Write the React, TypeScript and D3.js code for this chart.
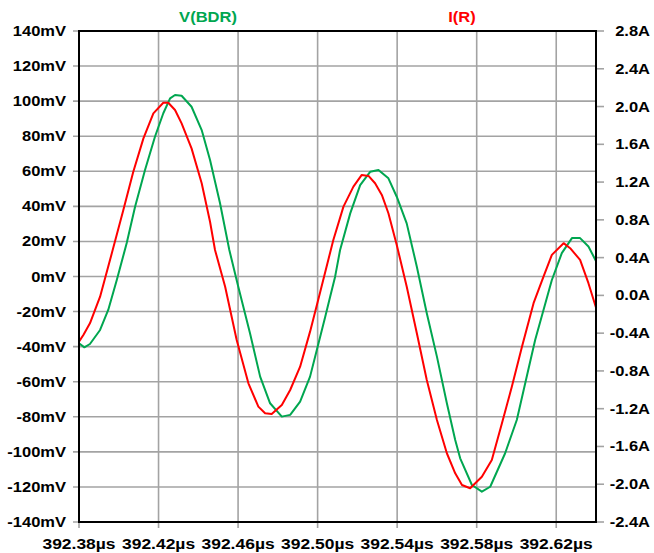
import { scaleLinear, line, range } from "d3";

const WIDTH = 654;
const HEIGHT = 553;
const PLOT = { left: 79, right: 596, top: 31, bottom: 522 };

const GREEN = "#00a650";
const RED = "#ff0000";
const GRID = "#a3a3a3";

// V(BDR) in mV
const vTime = [
  392.38, 392.3827, 392.3855, 392.3906, 392.3947, 392.399, 392.404, 392.4082,
  392.4132, 392.4182, 392.4224, 392.4258, 392.4283, 392.4316, 392.4366,
  392.4417, 392.4459, 392.4509, 392.4556, 392.4601, 392.466, 392.4711,
  392.4761, 392.482, 392.4862, 392.4912, 392.4962, 392.4996, 392.5038,
  392.5063, 392.5088, 392.5113, 392.5164, 392.5214, 392.5264, 392.5306,
  392.5356, 392.5398, 392.5448, 392.5499, 392.5549, 392.56, 392.565, 392.5692,
  392.5717, 392.5776, 392.5826, 392.5868, 392.5943, 392.6002, 392.6044,
  392.6094, 392.6136, 392.6178, 392.6228, 392.6279, 392.632, 392.6362,
  392.6401,
];
const vValues = [
  -38.1, -40.4, -38.5, -30.5, -19.1, -2.0, 19.1, 39.8, 60.7, 79.7, 93.1, 101.6,
  103.5, 103.1, 96.8, 83.5, 66.4, 41.9, 15.1, -5.8, -32.4, -57.1, -72.3, -79.9,
  -78.9, -71.3, -57.1, -41.9, -23.1, -11.5, -0.1, 15.1, 36.0, 52.1, 59.7, 60.7,
  56.0, 45.5, 30.3, 5.6, -21.0, -45.7, -72.3, -93.2, -103.7, -118.9, -122.7,
  -119.9, -100.8, -81.7, -60.9, -36.2, -19.1, -2.0, 13.3, 21.9, 21.9, 17.1, 8.6,
];

// I(R) in A
const iTime = [
  392.38, 392.3822, 392.3855, 392.3906, 392.3965, 392.4023, 392.4073,
  392.4124, 392.4174, 392.4224, 392.4249, 392.4283, 392.4316, 392.4366,
  392.4417, 392.4459, 392.4484, 392.4535, 392.4593, 392.4652, 392.4702,
  392.4736, 392.4769, 392.482, 392.4862, 392.4912, 392.4962, 392.5013,
  392.5079, 392.513, 392.518, 392.5222, 392.5256, 392.5289, 392.5323,
  392.5356, 392.5398, 392.5448, 392.5499, 392.5549, 392.56, 392.565, 392.5692,
  392.5726, 392.5767, 392.5826, 392.5876, 392.5927, 392.5977, 392.6028,
  392.6086, 392.6136, 392.6178, 392.6237, 392.627, 392.632, 392.6362, 392.6401,
];
const iValues = [
  -0.49, -0.419, -0.296, -0.014, 0.446, 0.904, 1.31, 1.663, 1.928, 2.04, 2.04,
  1.963, 1.822, 1.557, 1.187, 0.78, 0.481, 0.092, -0.473, -0.931, -1.178,
  -1.248, -1.256, -1.16, -1.002, -0.755, -0.384, 0.036, 0.587, 0.94, 1.152,
  1.276, 1.265, 1.188, 1.064, 0.87, 0.534, 0.093, -0.401, -0.896, -1.32,
  -1.672, -1.884, -2.008, -2.043, -1.92, -1.743, -1.354, -0.966, -0.542,
  -0.083, 0.199, 0.429, 0.553, 0.5, 0.376, 0.129, -0.136,
];

const xTicks = [392.38, 392.42, 392.46, 392.5, 392.54, 392.58, 392.62];
const mvTicks = range(-140, 141, 20);
const ampTicks = range(-24, 29, 4).map((d) => d / 10);

const FONT = "'Liberation Sans', Arial, sans-serif";
const STRETCH = 1.18;

export default function App() {
  const x = scaleLinear().domain([392.38, 392.64]).range([PLOT.left, PLOT.right]);
  const yV = scaleLinear().domain([-140, 140]).range([PLOT.bottom, PLOT.top]);
  const yI = scaleLinear().domain([-2.4, 2.8]).range([PLOT.bottom, PLOT.top]);

  const vLine = line<number>()
    .x((_, i) => x(vTime[i]))
    .y((d) => yV(d));
  const iLine = line<number>()
    .x((_, i) => x(iTime[i]))
    .y((d) => yI(d));

  const label = (
    tx: number,
    ty: number,
    text: string,
    anchor: "start" | "middle" | "end",
    fill = "#000",
    size = 14
  ) => (
    <text
      key={`${text}-${tx}-${ty}`}
      transform={`translate(${tx},${ty}) scale(${STRETCH},1)`}
      textAnchor={anchor}
      fontFamily={FONT}
      fontWeight="bold"
      fontSize={size}
      fill={fill}
    >
      {text}
    </text>
  );

  return (
    <svg
      width={WIDTH}
      height={HEIGHT}
      style={{ position: "absolute", left: 0, top: 0, background: "#fff" }}
    >
      <rect width={WIDTH} height={HEIGHT} fill="#fff" />
      {/* grid */}
      {xTicks.slice(1).map((t) => (
        <line
          key={`gx${t}`}
          x1={x(t)}
          x2={x(t)}
          y1={PLOT.top}
          y2={PLOT.bottom + 6}
          stroke={GRID}
          strokeWidth={1.6}
        />
      ))}
      {mvTicks.map((v) => (
        <line
          key={`gy${v}`}
          x1={PLOT.left - 6}
          x2={PLOT.right}
          y1={yV(v)}
          y2={yV(v)}
          stroke={GRID}
          strokeWidth={1.6}
        />
      ))}
      {ampTicks.map((a) => (
        <line
          key={`ta${a}`}
          x1={PLOT.right}
          x2={PLOT.right + 8}
          y1={yI(a)}
          y2={yI(a)}
          stroke={GRID}
          strokeWidth={1.6}
        />
      ))}
      <line
        x1={PLOT.left}
        x2={PLOT.left}
        y1={PLOT.bottom}
        y2={PLOT.bottom + 6}
        stroke={GRID}
        strokeWidth={1.6}
      />
      {/* traces */}
      <path d={vLine(vValues) ?? ""} fill="none" stroke={GREEN} strokeWidth={2} strokeLinejoin="round" />
      <path d={iLine(iValues) ?? ""} fill="none" stroke={RED} strokeWidth={2} strokeLinejoin="round" />
      {/* frame */}
      <rect
        x={PLOT.left}
        y={PLOT.top}
        width={PLOT.right - PLOT.left}
        height={PLOT.bottom - PLOT.top}
        fill="none"
        stroke="#000"
        strokeWidth={2}
      />
      {/* labels */}
      {mvTicks.map((v) => label(66, yV(v) + 5, `${v}mV`, "end"))}
      {ampTicks.map((a) => label(650, yI(a) + 5, `${a.toFixed(1)}A`, "end"))}
      {xTicks.map((t) => label(x(t), 549, `${t.toFixed(2)}µs`, "middle", "#000", 14.8))}
      {label(208, 22, "V(BDR)", "middle", GREEN)}
      {label(462, 22, "I(R)", "middle", RED)}
    </svg>
  );
}
